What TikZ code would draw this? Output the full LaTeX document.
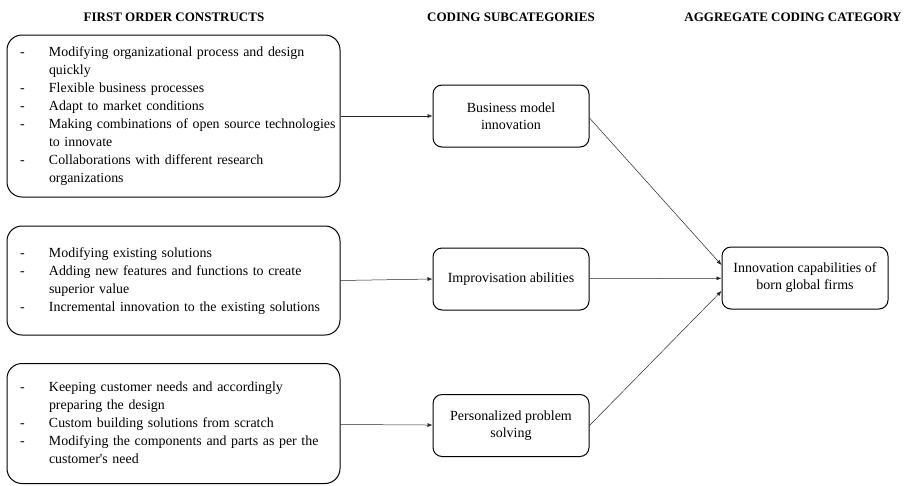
\documentclass[tikz,border=0pt]{standalone}
\usepackage{fontspec}
\setmainfont{Liberation Serif}
\usetikzlibrary{arrows.meta,positioning}
\tikzstyle{lst} = [rectangle, rounded corners=15pt, draw=black, line width=1pt, text width=307pt, inner xsep=13pt, align=left, font=\fontsize{13.9}{18}\selectfont]
\tikzstyle{cat} = [rectangle, rounded corners=9pt, draw=black, line width=1pt, align=center, minimum width=156pt, minimum height=62pt, font=\fontsize{14}{17}\selectfont]
\tikzstyle{hd} = [font=\fontsize{13}{15}\selectfont\bfseries]
\tikzstyle{ln} = [black!85, line width=0.5pt, -{Latex[length=5pt,width=4pt]}]

\begin{document}
\begin{tikzpicture}[x=1pt,y=-1pt]
		\useasboundingbox (0,0) rectangle (912,485);

		\node[hd] (h1) at (174,17) {FIRST ORDER CONSTRUCTS};
		\node[hd] (h2) at (511,17) {CODING SUBCATEGORIES};
		\node[hd] (h3) at (793,17) {AGGREGATE CODING CATEGORY};

		\node[lst, minimum height=162pt] (fo1) at (173.5,116) {\begin{tabular}{@{}p{29pt}@{}l@{}}
			- & Modifying organizational process and design\\
			  & quickly\\
			- & Flexible business processes\\
			- & Adapt to market conditions\\
			- & Making combinations of open source technologies\\
			  & to innovate\\
			- & Collaborations with different research\\
			  & organizations
		\end{tabular}};

		\node[lst, minimum height=109pt] (fo2) at (173.5,280.5) {\begin{tabular}{@{}p{29pt}@{}l@{}}
			- & Modifying existing solutions\\
			- & Adding new features and functions to create\\
			  & superior value\\
			- & Incremental innovation to the existing solutions
		\end{tabular}};

		\node[lst, minimum height=120pt] (fo3) at (173.5,423.5) {\begin{tabular}{@{}p{29pt}@{}l@{}}
			- & Keeping customer needs and accordingly\\
			  & preparing the design\\
			- & Custom building solutions from scratch\\
			- & Modifying the components and parts as per the\\
			  & customer\textquotesingle s need
		\end{tabular}};

		\node[cat] (bmi) at (511,116) {Business model\\innovation};
		\node[cat] (imp) at (511,279) {Improvisation abilities};
		\node[cat] (pps) at (511,425.5) {Personalized problem\\solving};

		\node[cat, minimum width=166pt] (agg) at (805,278) {Innovation capabilities of\\born global firms};

		\draw[ln] (fo1) -- (bmi);
		\draw[ln] (fo2.east) -- (imp.west);
		\draw[ln] (fo3) -- (pps);

		\draw[ln] ([yshift=-2pt]bmi.east) -- ([yshift=13pt]agg.west);
		\draw[ln] (imp) -- (agg);
		\draw[ln] (pps.east) -- ([yshift=-13pt]agg.west);
	\end{tikzpicture}
\end{document}
